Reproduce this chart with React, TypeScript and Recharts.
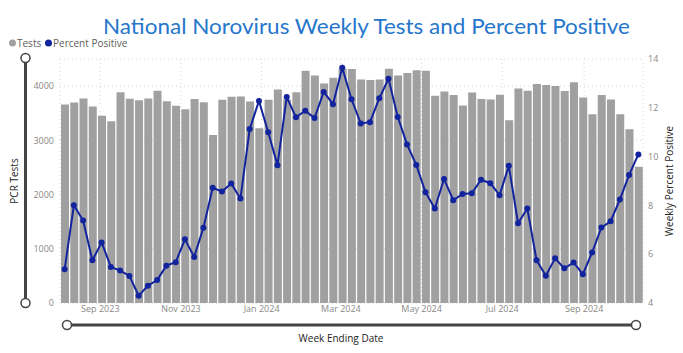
import { ComposedChart, Bar, Line, XAxis, YAxis, CartesianGrid } from "recharts";

// week ending dates (Saturdays)
const weekEnding = [
  "2023-08-05", "2023-08-12", "2023-08-19", "2023-08-26", "2023-09-02", "2023-09-09", "2023-09-16",
  "2023-09-23", "2023-09-30", "2023-10-07", "2023-10-14", "2023-10-21", "2023-10-28", "2023-11-04",
  "2023-11-11", "2023-11-18", "2023-11-25", "2023-12-02", "2023-12-09", "2023-12-16", "2023-12-23",
  "2023-12-30", "2024-01-06", "2024-01-13", "2024-01-20", "2024-01-27", "2024-02-03", "2024-02-10",
  "2024-02-17", "2024-02-24", "2024-03-02", "2024-03-09", "2024-03-16", "2024-03-23", "2024-03-30",
  "2024-04-06", "2024-04-13", "2024-04-20", "2024-04-27", "2024-05-04", "2024-05-11", "2024-05-18",
  "2024-05-25", "2024-06-01", "2024-06-08", "2024-06-15", "2024-06-22", "2024-06-29", "2024-07-06",
  "2024-07-13", "2024-07-20", "2024-07-27", "2024-08-03", "2024-08-10", "2024-08-17", "2024-08-24",
  "2024-08-31", "2024-09-07", "2024-09-14", "2024-09-21", "2024-09-28", "2024-10-05", "2024-10-12",
];

const tests = [
  3661, 3698, 3772, 3624, 3452, 3352, 3889, 3766, 3741, 3772,
  3915, 3722, 3637, 3575, 3760, 3704, 3100, 3748, 3804, 3810,
  3717, 3223, 3748, 3939, 3754, 3889, 4285, 4198, 4050, 4155,
  4320, 4315, 4124, 4112, 4124, 4322, 4198, 4241, 4291, 4285,
  3822, 3902, 3834, 3643, 3883, 3760, 3754, 3841, 3371, 3958,
  3915, 4037, 4019, 4000, 3908, 4069, 3791, 3482, 3834, 3754,
  3482, 3204, 2513,
];

const percentPositive = [
  5.38, 8.01, 7.38, 5.75, 6.48, 5.48, 5.33, 5.11, 4.3, 4.71,
  4.94, 5.53, 5.67, 6.61, 5.89, 7.08, 8.72, 8.57, 8.9, 8.28,
  11.13, 12.28, 11.0, 9.65, 12.44, 11.61, 11.88, 11.58, 12.65, 12.15,
  13.64, 12.35, 11.36, 11.41, 12.39, 13.19, 11.62, 10.5, 9.66, 8.54,
  7.87, 9.08, 8.21, 8.47, 8.5, 9.05, 8.91, 8.42, 9.62, 7.27,
  7.87, 5.75, 5.12, 5.83, 5.42, 5.66, 5.18, 6.07, 7.09, 7.35,
  8.24, 9.25, 10.09,
];

const monthTicks = ["2023-09-01", "2023-11-01", "2024-01-01", "2024-03-01", "2024-05-01", "2024-07-01", "2024-09-01"];
const testTicks = [0, 1000, 2000, 3000, 4000];
const pctTicks = [4, 6, 8, 10, 12, 14];

const MONTHS = ["Jan", "Feb", "Mar", "Apr", "May", "Jun", "Jul", "Aug", "Sep", "Oct", "Nov", "Dec"];
const DAY = 86400000;
const toTime = (d: string) => Date.parse(d + "T00:00:00Z");
const fmtMonth = (t: number) => {
  const d = new Date(t);
  return `${MONTHS[d.getUTCMonth()]} ${d.getUTCFullYear()}`;
};

const data = weekEnding.map((d, i) => ({ date: toTime(d), tests: tests[i], pct: percentPositive[i] }));
const xDomain = [toTime(weekEnding[0]) - 3.5 * DAY, toTime(weekEnding[weekEnding.length - 1]) + 3.5 * DAY];

const BAR = "#a0a0a0";
const LINE = "#12239e";
const FONT = "'Open Sans', 'Noto Sans', sans-serif";
const tickStyle = { fontSize: 9, fill: "#8a8886", fontFamily: FONT };

export default function App() {
  return (
    <div style={{ position: "absolute", left: 0, top: 0, width: 683, height: 353, background: "#fff" }}>
      <ComposedChart width={683} height={353} data={data} margin={{ top: 59, right: 0, bottom: 30, left: 0 }}>
        <CartesianGrid yAxisId="left" stroke="#d8d8d8" strokeDasharray="1 3" />
        <XAxis
          dataKey="date"
          type="number"
          scale="time"
          domain={xDomain}
          ticks={monthTicks.map(toTime)}
          tickFormatter={fmtMonth}
          tick={tickStyle}
          axisLine={false}
          tickLine={false}
          tickSize={0}
          tickMargin={3}
          height={20}
          allowDataOverflow
        />
        <YAxis
          yAxisId="left"
          domain={[0, 4500]}
          ticks={testTicks}
          tick={tickStyle}
          axisLine={false}
          tickLine={false}
          tickSize={4}
          tickMargin={2}
          width={60}
        />
        <YAxis
          yAxisId="right"
          orientation="right"
          domain={[4, 14]}
          ticks={pctTicks}
          tick={tickStyle}
          axisLine={false}
          tickLine={false}
          tickSize={3}
          tickMargin={2}
          width={40}
        />
        <Bar yAxisId="left" dataKey="tests" name="Tests" fill={BAR} barSize={8} isAnimationActive={false} />
        <Line
          yAxisId="right"
          dataKey="pct"
          name="Percent Positive"
          stroke={LINE}
          strokeWidth={2}
          dot={{ r: 3, fill: LINE, stroke: LINE, strokeWidth: 0 }}
          isAnimationActive={false}
        />
      </ComposedChart>
      <svg width={683} height={353} style={{ position: "absolute", left: 0, top: 0, pointerEvents: "none" }}>
        <text x={366.5} y={34} textAnchor="middle" fontSize={22} fill="#2676cc" fontFamily="Lato, sans-serif" textLength={527} lengthAdjust="spacingAndGlyphs">
          National Norovirus Weekly Tests and Percent Positive
        </text>
        {/* legend */}
        <g fontFamily={FONT} fontSize={10} fill="#605e5c">
          <circle cx={12.5} cy={43} r={3.5} fill={BAR} />
          <text x={17} y={46.5}>Tests</text>
          <circle cx={48.5} cy={43} r={3.5} fill={LINE} />
          <text x={53} y={46.5}>Percent Positive</text>
        </g>
        <text transform="translate(18,181) rotate(-90)" textAnchor="middle" fontSize={10} fill="#252423" fontFamily={FONT}>PCR Tests</text>
        <text transform="translate(673,181) rotate(-90)" textAnchor="middle" fontSize={10} fill="#252423" fontFamily={FONT}>Weekly Percent Positive</text>
        <text x={341} y={342} textAnchor="middle" fontSize={10} fill="#252423" fontFamily={FONT}>Week Ending Date</text>
        {/* zoom sliders */}
        <g stroke="#444" fill="#fff">
          <line x1={25.5} y1={58} x2={25.5} y2={303} strokeWidth={3} />
          <circle cx={25.5} cy={58} r={4.5} strokeWidth={1.5} />
          <circle cx={25.5} cy={303} r={4.5} strokeWidth={1.5} />
          <line x1={67} y1={325} x2={636} y2={325} strokeWidth={3} />
          <circle cx={67} cy={325} r={4.5} strokeWidth={1.5} />
          <circle cx={636} cy={325} r={4.5} strokeWidth={1.5} />
        </g>
      </svg>
    </div>
  );
}
